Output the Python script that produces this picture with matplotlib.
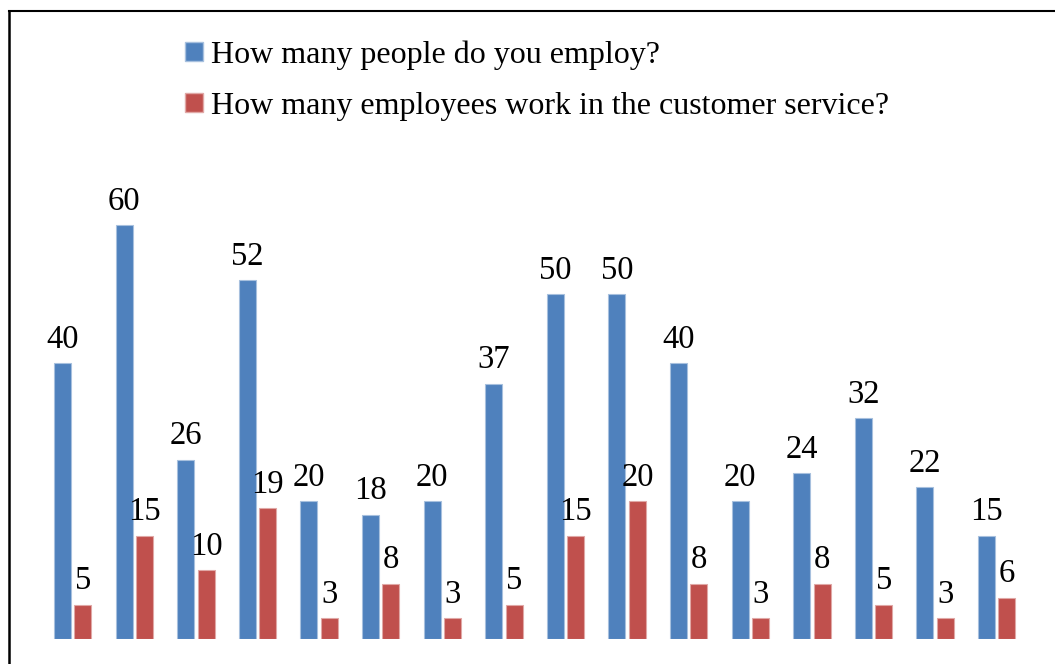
import matplotlib
matplotlib.use('Agg')
import matplotlib.pyplot as plt
import numpy as np
from matplotlib.lines import Line2D
from matplotlib.patches import Patch

# Survey answers per company
employees_total = [40, 60, 26, 52, 20, 18, 20, 37, 50, 50, 40, 20, 24, 32, 22, 15]
employees_service = [5, 15, 10, 19, 3, 8, 3, 5, 15, 20, 8, 3, 8, 5, 3, 6]
series_labels = ['How many people do you employ?',
                 'How many employees work in the customer service?']

blue = '#4F81BD'
red = '#C0504D'

plt.rcParams['font.family'] = ['Liberation Serif', 'DejaVu Serif']

W, H = 1055, 664
fig = plt.figure(figsize=(W / 100, H / 100), dpi=100)

# axes placed so groups sit where the bars should be (pixel based)
left_px, right_px = 41.95, 1027.55
base_px, top_px = 639, 156
ax = fig.add_axes([left_px / W, (H - base_px) / H,
                   (right_px - left_px) / W, (base_px - top_px) / H])

x = np.arange(len(employees_total))
width = 0.276
offset = 0.166

bars1 = ax.bar(x - offset, employees_total, width, color=blue,
               edgecolor='#A7C0DE', linewidth=0.8)
bars2 = ax.bar(x + offset, employees_service, width, color=red,
               edgecolor='#E0A8A6', linewidth=0.8)

for bars, vals in [(bars1, employees_total), (bars2, employees_service)]:
    for b, v in zip(bars, vals):
        ax.annotate(str(v), (b.get_x() + b.get_width() / 2, v),
                    xytext=(0, 6), textcoords='offset points',
                    ha='center', va='bottom', fontsize=23.5)

ax.set_xlim(-0.5, len(x) - 0.5)
ax.set_ylim(0, 70)
ax.axis('off')

# legend in the top area
handles = [Patch(facecolor=blue, edgecolor='#A7C0DE'),
           Patch(facecolor=red, edgecolor='#E0A8A6')]
fig.legend(handles, series_labels, loc='upper left',
           bbox_to_anchor=(185 / W, 1 - 40 / H), frameon=False,
           fontsize=23, handlelength=0.55, handleheight=0.55,
           handletextpad=0.25, labelspacing=0.7, borderpad=0,
           borderaxespad=0)

# frame lines along the left and top edges
fig.add_artist(Line2D([9 / W, 9 / W], [0, 1 - 11 / H], color='black',
                      linewidth=1.8, transform=fig.transFigure))
fig.add_artist(Line2D([9 / W, 1], [1 - 11 / H, 1 - 11 / H], color='black',
                      linewidth=1.5, transform=fig.transFigure))

fig.savefig('out.png', dpi=100)
